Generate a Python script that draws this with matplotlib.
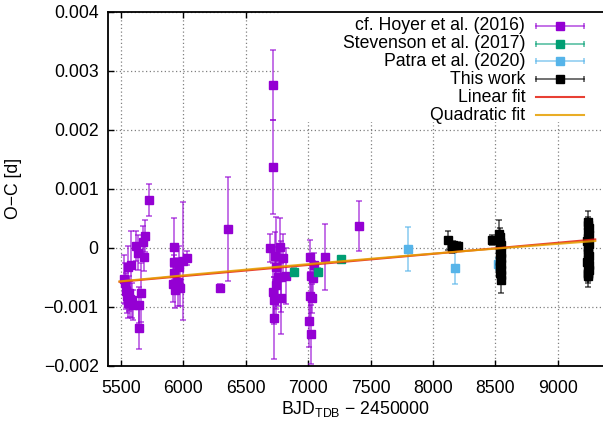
import numpy as np
import matplotlib.pyplot as plt
from matplotlib.patches import Rectangle

plt.rcParams['font.family'] = ['Liberation Sans', 'DejaVu Sans']
plt.rcParams['mathtext.default'] = 'regular'
plt.rcParams['font.size'] = 12.7

# cf. Hoyer et al. (2016): epoch (BJD-2450000), O-C [d], error [d]
hoyer_x = [5526, 5535, 5542, 5547, 5555, 5560, 5567, 5574, 5582, 5587, 5600,
           5622, 5638, 5643, 5648, 5660, 5675, 5684, 5694, 5726,
           5916, 5926, 5926, 5928, 5935, 5961, 5969, 5975, 6001, 6028,
           6295, 6356,
           6696, 6717, 6717, 6721, 6727, 6727, 6736, 6741, 6747, 6761, 6775,
           6781, 6783, 6797, 6822,
           7008, 7012, 7015, 7020, 7025, 7028, 7040, 7045, 7136, 7410]
hoyer_y = [-0.00053, -0.00060, -0.00073, -0.00081, -0.00032, -0.00094, -0.00077,
           -0.00087, -0.00030, -0.00089, -0.00097,
           0.00003, -0.00008, -0.00136, -0.00097, -0.00076, 0.00010, -0.00015,
           0.00020, 0.00081,
           -0.00062, 0.00002, -0.00024, -0.00043, -0.00072, -0.00058, -0.00032,
           -0.00069, -0.00022, -0.00018,
           -0.00068, 0.00032,
           0.00000, 0.00276, 0.00137, -0.00075, -0.00089, -0.00119, -0.00014,
           -0.00032, -0.00063, -0.00049, 0.00001, -0.00049, -0.00086, -0.00017,
           -0.00048,
           -0.00124, -0.00081, -0.00016, -0.00048, -0.00147, -0.00086, -0.00052,
           -0.00029, -0.00015, 0.00037]
hoyer_e = [0.00040, 0.00035, 0.00030, 0.00030, 0.00035, 0.00025, 0.00030,
           0.00030, 0.00058, 0.00030, 0.00025,
           0.00025, 0.00030, 0.00036, 0.00030, 0.00050, 0.00027, 0.00025,
           0.00027, 0.00027,
           0.00030, 0.00048, 0.00030, 0.00030, 0.00030, 0.00040, 0.00035,
           0.00030, 0.00100, 0.00012,
           0.00007, 0.00088,
           0.00024, 0.00060, 0.00080, 0.00050, 0.00040, 0.00069, 0.00040,
           0.00085, 0.00040, 0.00050, 0.00050, 0.00060, 0.00060, 0.00040,
           0.00048,
           0.00045, 0.00040, 0.00030, 0.00035, 0.00050, 0.00025, 0.00030,
           0.00020, 0.00056, 0.00043]

# Stevenson et al. (2017)
stev_x = [6888, 7080, 7261]
stev_y = [-0.00041, -0.00041, -0.00019]
stev_e = [0.00006, 0.00006, 0.00004]

# Patra et al. (2020)
patra_x = [7800, 8177, 8525]
patra_y = [-0.00002, -0.00034, -0.00028]
patra_e = [0.00038, 0.00028, 0.00010]

# This work
work_x = [8118, 8150, 8160, 8198, 8471,
          8533, 8537, 8541, 8545, 8538, 8542, 8536, 8547, 8540, 8544, 8539,
          8543, 8535, 8546, 8541, 8545,
          9238, 9242, 9246, 9240, 9250, 9244, 9236, 9248, 9241, 9245, 9239,
          9247, 9243, 9237, 9249, 9242, 9246, 9240, 9244, 9241]
work_y = [0.00013, -0.00001, 0.00004, 0.00003, 0.00013,
          0.00024, 0.00018, 0.00010, 0.00004, -0.00002, -0.00008, -0.00013,
          -0.00018, -0.00023, -0.00028, -0.00033, -0.00038, -0.00042, -0.00046,
          -0.00030, -0.00055,
          0.00044, 0.00038, 0.00033, 0.00027, 0.00022, 0.00016, 0.00011,
          0.00006, 0.00001, -0.00004, -0.00009, -0.00014, -0.00019, -0.00024,
          -0.00029, -0.00034, -0.00038, -0.00042, -0.00045, -0.00048]
work_e = [0.00016, 0.00008, 0.00008, 0.00006, 0.00008,
          0.00024, 0.00015, 0.00015, 0.00012, 0.00012, 0.00012, 0.00012,
          0.00012, 0.00012, 0.00012, 0.00012, 0.00012, 0.00012, 0.00012,
          0.00012, 0.00022,
          0.00019, 0.00015, 0.00015, 0.00015, 0.00015, 0.00015, 0.00015,
          0.00015, 0.00015, 0.00015, 0.00015, 0.00015, 0.00015, 0.00015,
          0.00015, 0.00015, 0.00015, 0.00015, 0.00015, 0.00018]

# fit coefficients, polynomial in (x - fit_t0)
fit_t0 = 7395
fit_range = [5490, 9300]
lin_coef = [-0.000217, 1.885e-7]
quad_coef = [-0.000205, 1.798e-7, -6.2e-12]

xticks = [5500, 6000, 6500, 7000, 7500, 8000, 8500, 9000]
yticks = [-0.002, -0.001, 0, 0.001, 0.002, 0.003, 0.004]
ytick_labels = ['\u22120.002', '\u22120.001', '0', '0.001', '0.002', '0.003', '0.004']

series = [
    ('cf. Hoyer et al. (2016)', hoyer_x, hoyer_y, hoyer_e, '#9400d3'),
    ('Stevenson et al. (2017)', stev_x, stev_y, stev_e, '#009e73'),
    ('Patra et al. (2020)', patra_x, patra_y, patra_e, '#56b4e9'),
    ('This work', work_x, work_y, work_e, 'black'),
]
fits = [('Linear fit', lin_coef, '#e51e10'), ('Quadratic fit', quad_coef, '#e69f00')]

fig = plt.figure(figsize=(6.03, 4.22), dpi=100)
ax = fig.add_axes([0.1796, 0.1334, 0.8204, 0.8382])

for label, x, y, e, c in series:
    ax.errorbar(x, y, yerr=e, fmt='none', ecolor=c, elinewidth=1.2, capsize=2.5,
                capthick=1.2, alpha=0.65, zorder=3)
    ax.plot(x, y, 's', color=c, markersize=5.5, zorder=4)

xf = np.linspace(fit_range[0], fit_range[1], 200)
for label, coef, c in fits:
    t = xf - fit_t0
    yf = sum(cc * t**i for i, cc in enumerate(coef))
    ax.plot(xf, yf, color=c, lw=1.5, alpha=0.85, zorder=5)

ax.set_xlim(5400, 9362)
ax.set_ylim(-0.002, 0.004)
ax.set_xticks(xticks)
ax.set_yticks(yticks)
ax.set_yticklabels(ytick_labels)
ax.tick_params(direction='in', length=4, width=1, top=True, right=False)
ax.tick_params(axis='x', pad=10)
ax.tick_params(axis='y', pad=7)
ax.grid(True, linestyle=(0, (1, 2)), color='#808080', lw=0.9)
ax.set_axisbelow(True)
for s in ['left', 'bottom', 'top']:
    ax.spines[s].set_linewidth(1.3)
ax.spines['right'].set_visible(False)

ax.set_xlabel('BJD$_{TDB}$ \u2212 2450000', labelpad=2)
ax.set_ylabel('O\u2212C [d]')
ax.yaxis.set_label_coords(-0.174, 0.5)

# legend, drawn by hand: right-aligned text, sample on the right
ax.add_patch(Rectangle((0.347, 0.689), 0.653, 0.311, transform=ax.transAxes,
                       facecolor='white', edgecolor='none', zorder=2.2))
rows_y = [0.9613, 0.9104, 0.8606, 0.8097, 0.7588, 0.7079]
x_text, x0, x1, xm = 0.8428, 0.8648, 0.9620, 0.9134
for (label, x, y, e, c), ry in zip(series, rows_y[:4]):
    ax.text(x_text, ry, label, transform=ax.transAxes, ha='right', va='center', zorder=6)
    ax.plot([x0, x1], [ry, ry], color=c, lw=1.2, alpha=0.65, transform=ax.transAxes, zorder=6)
    ax.plot([x0, x1], [ry, ry], '|', color=c, markersize=5, mew=1.2, alpha=0.65,
            transform=ax.transAxes, zorder=6)
    ax.plot([xm], [ry], 's', color=c, markersize=5.5, transform=ax.transAxes, zorder=7)
for (label, coef, c), ry in zip(fits, rows_y[4:]):
    ax.text(x_text, ry, label, transform=ax.transAxes, ha='right', va='center', zorder=6)
    ax.plot([x0, x1], [ry, ry], color=c, lw=1.5, alpha=0.85, transform=ax.transAxes, zorder=6)

fig.savefig('out.png', dpi=100)
